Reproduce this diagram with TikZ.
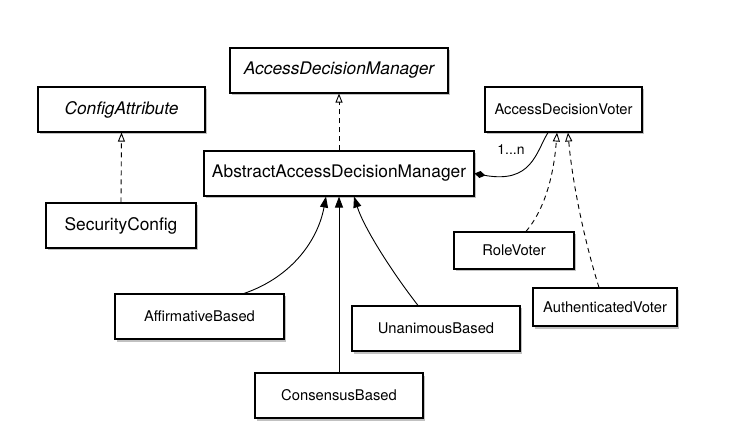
\documentclass[tikz,border=0pt]{standalone}
\usepackage{fontspec}
\setmainfont{TeX Gyre Heros}
\usetikzlibrary{arrows.meta,shadows}
\begin{document}
\begin{tikzpicture}[x=1bp,y=-1bp,
  box/.style={draw=black, line width=1.1bp, fill=white, inner sep=0pt, align=center,
    drop shadow={shadow xshift=2bp, shadow yshift=-2.5bp, opacity=0.4, fill=black!60}},
  bigtxt/.style={font=\fontsize{17.4}{20}\selectfont},
  smalltxt/.style={font=\fontsize{14.8}{17}\selectfont},
  real/.style={line width=0.9bp, dash pattern=on 5bp off 4bp, -{Triangle[open,length=9bp,width=7bp,line width=0.9bp]}},
  gen/.style={line width=0.9bp, -{Triangle[length=11bp,width=8bp]}},
  comp/.style={line width=0.9bp, {Diamond[length=11bp,width=7bp]}-}
]
\path[fill=white] (0,0) rectangle (755,438);
\useasboundingbox (0,0) rectangle (755,438);

\node[box,bigtxt,minimum width=167bp,minimum height=45bp] (ca) at (121.5,109.5) {\itshape ConfigAttribute};
\node[box,bigtxt,minimum width=218bp,minimum height=45bp] (adm) at (339,70.5) {\itshape AccessDecisionManager};
\node[box,bigtxt,minimum width=270bp,minimum height=45bp] (abs) at (339,173.5) {AbstractAccessDecisionManager};
\node[box,bigtxt,minimum width=150bp,minimum height=45bp] (sc) at (121,225.5) {SecurityConfig};
\node[box,smalltxt,minimum width=157bp,minimum height=45bp] (adv) at (563.5,109.5) {AccessDecisionVoter};
\node[box,smalltxt,minimum width=120bp,minimum height=37bp] (rv) at (514,250.5) {RoleVoter};
\node[box,smalltxt,minimum width=144bp,minimum height=38bp] (av) at (605,307) {AuthenticatedVoter};
\node[box,smalltxt,minimum width=169bp,minimum height=45bp] (aff) at (199.5,316.5) {AffirmativeBased};
\node[box,smalltxt,minimum width=168bp,minimum height=45bp] (una) at (436,328.5) {UnanimousBased};
\node[box,smalltxt,minimum width=168bp,minimum height=45bp] (con) at (339,395.5) {ConsensusBased};

\draw[real] (sc.north) -- (ca.south);
\draw[real] (abs.north) -- (adm.south);

\draw[gen] (con.north) -- (abs.south);
\draw[gen] ([xshift=44.5bp]aff.north) .. controls (292,277) and (318,240) .. ([xshift=-13bp]abs.south);
\draw[gen] ([xshift=-18bp]una.north) .. controls (392,272) and (364,228) .. ([xshift=15bp]abs.south);

\draw[comp] (abs.east) .. controls (532,184) and (536,152) .. ([xshift=-15.5bp]adv.south);
\node[font=\fontsize{14}{16}\selectfont, inner sep=0pt] (mult) at (511,150) {1...n};

\draw[real] ([xshift=12bp]rv.north) .. controls (546,208) and (554,172) .. ([xshift=-6.5bp]adv.south);
\draw[real] ([xshift=-6bp]av.north) .. controls (584,240) and (572,180) .. ([xshift=4.5bp]adv.south);
\end{tikzpicture}
\end{document}
